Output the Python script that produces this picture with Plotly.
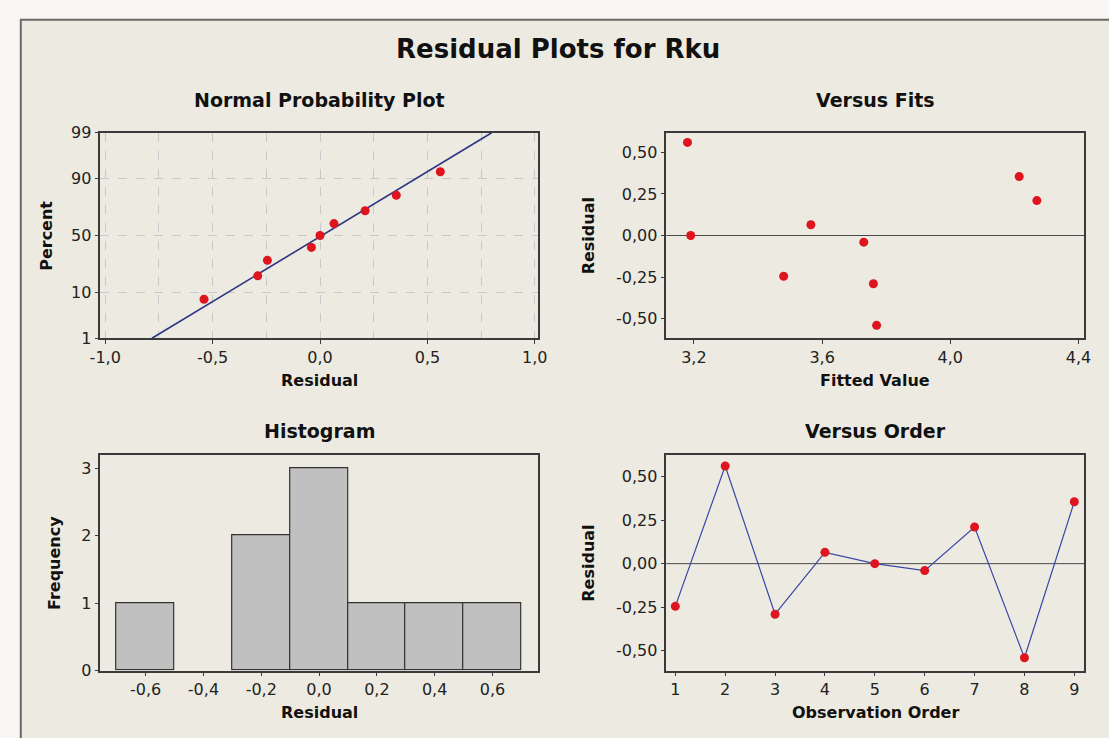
import numpy as np
import plotly.graph_objects as go
from statistics import NormalDist

# ---------------- data ----------------
obs_order = [1, 2, 3, 4, 5, 6, 7, 8, 9]
residuals = [-0.245, 0.56, -0.29, 0.065, 0.0, -0.04, 0.21, -0.54, 0.355]
fitted = [3.48, 3.18, 3.76, 3.565, 3.19, 3.73, 4.27, 3.77, 4.215]

pct_ticks = [1, 10, 50, 90, 99]
npp_x_ticks = [-1.0, -0.5, 0.0, 0.5, 1.0]
npp_x_labels = ["-1,0", "-0,5", "0,0", "0,5", "1,0"]
fit_x_ticks = [3.2, 3.6, 4.0, 4.4]
fit_x_labels = ["3,2", "3,6", "4,0", "4,4"]
res_ticks = [-0.5, -0.25, 0.0, 0.25, 0.5]
res_labels = ["-0,50", "-0,25", "0,00", "0,25", "0,50"]
hist_x_ticks = [-0.6, -0.4, -0.2, 0.0, 0.2, 0.4, 0.6]
hist_x_labels = ["-0,6", "-0,4", "-0,2", "0,0", "0,2", "0,4", "0,6"]
freq_ticks = [0, 1, 2, 3]

# ---------------- derived ----------------
nd = NormalDist()
n = len(residuals)
sorted_res = sorted(residuals)
pcts = [(i - 0.3) / (n + 0.4) for i in range(1, n + 1)]
z_pts = [nd.inv_cdf(p) for p in pcts]
z_ticks = [nd.inv_cdf(p / 100) for p in pct_ticks]
mu = float(np.mean(residuals))
sd = float(np.std(residuals, ddof=1))
z_lo, z_hi = z_ticks[0], z_ticks[-1]
line_x = [mu + sd * z_lo, mu + sd * z_hi]
line_z = [z_lo, z_hi]

W, H = 1109, 738
FONT = "DejaVu Sans"
RED = "#DE141F"


def px_x(v):
    return v / W


def px_y(v):
    return 1 - v / H


dom_left = [px_x(91), px_x(537)]
dom_right = [px_x(668), px_x(1094)]
dom_top = [px_y(338), px_y(127)]
dom_bot = [px_y(679), px_y(458)]

axis_common = dict(
    showline=True, mirror=True, linecolor="#3a3a3a", linewidth=1.5,
    ticks="outside", ticklen=4, tickcolor="#3a3a3a", tickwidth=1,
    zeroline=False, showgrid=False,
    tickfont=dict(family=FONT, size=16, color="#222"),
)

fig = go.Figure()

# Normal probability plot
fig.add_trace(go.Scatter(x=line_x, y=line_z, mode="lines",
                         line=dict(color="#2E3582", width=1.6),
                         xaxis="x", yaxis="y", showlegend=False))
fig.add_trace(go.Scatter(x=sorted_res, y=z_pts, mode="markers",
                         marker=dict(color=RED, size=9),
                         xaxis="x", yaxis="y", showlegend=False))

# Versus fits
fig.add_trace(go.Scatter(x=fitted, y=residuals, mode="markers",
                         marker=dict(color=RED, size=9),
                         xaxis="x2", yaxis="y2", showlegend=False))

# Histogram
fig.add_trace(go.Histogram(x=residuals, xbins=dict(start=-0.7, end=0.7, size=0.2),
                           marker=dict(color="#C0C0C0", line=dict(color="#333", width=1.2)),
                           xaxis="x3", yaxis="y3", showlegend=False))

# Versus order
fig.add_trace(go.Scatter(x=obs_order, y=residuals, mode="lines+markers",
                         line=dict(color="#3A46A6", width=1.2),
                         marker=dict(color=RED, size=9),
                         xaxis="x4", yaxis="y4", showlegend=False))

grid_style = dict(showgrid=True, gridcolor="#C9C9C9", gridwidth=1, griddash="dash")

fig.update_layout(
    width=W, height=H,
    margin=dict(l=0, r=0, t=0, b=0),
    paper_bgcolor="#F7F6F2",
    plot_bgcolor="white",
    font=dict(family=FONT, color="#222"),
    bargap=0,
    xaxis=dict(axis_common, domain=dom_left, anchor="y", range=[-1.023, 1.014],
               tickmode="array", tickvals=npp_x_ticks, ticktext=npp_x_labels,
               minor=dict(tickvals=[-0.75, -0.25, 0.25, 0.75], ticks="", **grid_style),
               **grid_style),
    yaxis=dict(axis_common, domain=dom_top, anchor="x", range=[z_lo, z_hi],
               tickmode="array", tickvals=z_ticks, ticktext=[str(v) for v in pct_ticks],
               **grid_style),
    xaxis2=dict(axis_common, domain=dom_right, anchor="y2", range=[3.114, 4.418],
                tickmode="array", tickvals=fit_x_ticks, ticktext=fit_x_labels),
    yaxis2=dict(axis_common, domain=dom_top, anchor="x2", range=[-0.618, 0.618],
                tickmode="array", tickvals=res_ticks, ticktext=res_labels),
    xaxis3=dict(axis_common, domain=dom_left, anchor="y3", range=[-0.757, 0.757],
                tickmode="array", tickvals=hist_x_ticks, ticktext=hist_x_labels),
    yaxis3=dict(axis_common, domain=dom_bot, anchor="x3", range=[0, 3.19],
                tickmode="array", tickvals=freq_ticks, ticktext=[str(v) for v in freq_ticks]),
    xaxis4=dict(axis_common, domain=dom_right, anchor="y4", range=[0.82, 9.2],
                tickmode="array", tickvals=obs_order, ticktext=[str(v) for v in obs_order]),
    yaxis4=dict(axis_common, domain=dom_bot, anchor="x4", range=[-0.613, 0.622],
                tickmode="array", tickvals=res_ticks, ticktext=res_labels),
)

shapes = [
    # outer frame with beige fill
    dict(type="rect", xref="paper", yref="paper",
         x0=px_x(10), x1=1.02, y0=-0.02, y1=px_y(11),
         fillcolor="#EDEBE1", line=dict(color="#6a6a6a", width=2), layer="below"),
    # zero reference lines
    dict(type="line", xref="x2 domain", yref="y2", x0=0, x1=1, y0=0, y1=0,
         line=dict(color="#4a4a4a", width=1), layer="below"),
    dict(type="line", xref="x4 domain", yref="y4", x0=0, x1=1, y0=0, y1=0,
         line=dict(color="#4a4a4a", width=1), layer="below"),
]
fig.update_layout(shapes=shapes)


def ann(text, x, y, size, angle=0):
    return dict(text=f"<b>{text}</b>", x=x, y=y, xref="paper", yref="paper",
                xanchor="center", yanchor="middle", showarrow=False,
                textangle=angle, font=dict(family=FONT, size=size, color="#111"))


cx_l = (dom_left[0] + dom_left[1]) / 2
cx_r = (dom_right[0] + dom_right[1]) / 2
cy_t = (dom_top[0] + dom_top[1]) / 2
cy_b = (dom_bot[0] + dom_bot[1]) / 2

annotations = [
    ann("Residual Plots for Rku", px_x(558), px_y(41), 26),
    ann("Normal Probability Plot", cx_l, px_y(93), 19),
    ann("Versus Fits", cx_r, px_y(93), 19),
    ann("Histogram", cx_l, px_y(433), 19),
    ann("Versus Order", cx_r, px_y(433), 19),
    ann("Residual", cx_l, px_y(381), 16),
    ann("Fitted Value", cx_r, px_y(381), 16),
    ann("Residual", cx_l, px_y(722), 16),
    ann("Observation Order", cx_r, px_y(722), 16),
    ann("Percent", px_x(36), cy_t, 16, -90),
    ann("Residual", px_x(589), cy_t, 16, -90),
    ann("Frequency", px_x(45), cy_b, 16, -90),
    ann("Residual", px_x(589), cy_b, 16, -90),
]
fig.update_layout(annotations=annotations)

fig.write_html(
    "out.html",
    config={"displayModeBar": False},
    post_script="document.body.style.margin='0';document.body.style.overflow='hidden';",
)
